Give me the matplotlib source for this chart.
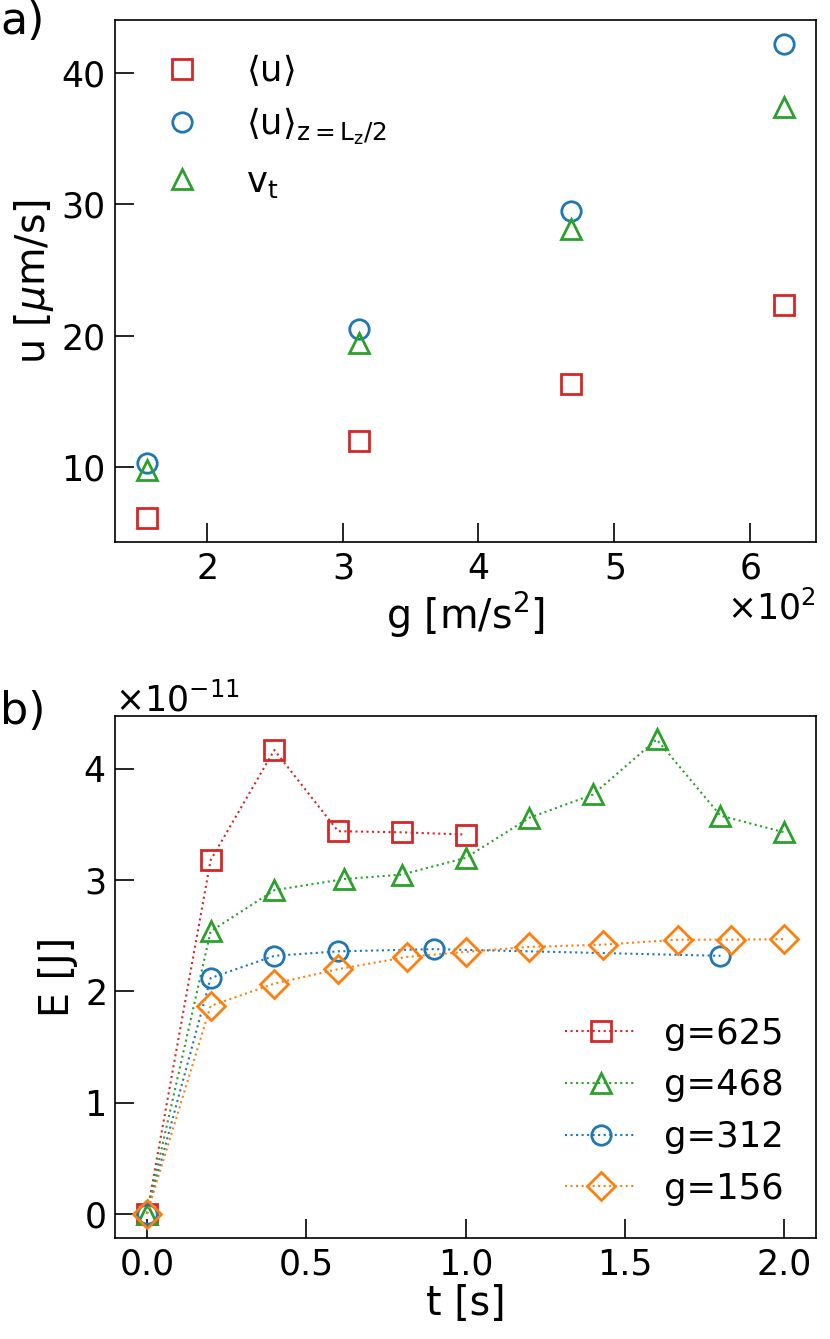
import matplotlib
matplotlib.use('Agg')
import matplotlib.pyplot as plt
import numpy as np

# panel a) : velocities vs gravity
g = [156, 312, 468, 625]
u_mean = [6.1, 11.95, 16.3, 22.3]
u_mid = [10.3, 20.5, 29.5, 42.2]
v_t = [9.8, 19.4, 28.1, 37.4]

# panel b) : energy vs time (x1e-11 J)
t_625 = [0, 0.2, 0.4, 0.6, 0.8, 1.0]
E_625 = [0, 3.18, 4.17, 3.44, 3.43, 3.41]
t_468 = [0, 0.2, 0.4, 0.62, 0.8, 1.0, 1.2, 1.4, 1.6, 1.8, 2.0]
E_468 = [0, 2.54, 2.91, 3.01, 3.05, 3.20, 3.56, 3.77, 4.265, 3.58, 3.43]
t_312 = [0, 0.2, 0.4, 0.6, 0.9, 1.8]
E_312 = [0, 2.12, 2.32, 2.36, 2.38, 2.32]
t_156 = [0, 0.2, 0.4, 0.6, 0.817, 1.0, 1.2, 1.43, 1.667, 1.833, 2.0]
E_156 = [0, 1.87, 2.07, 2.20, 2.31, 2.355, 2.40, 2.42, 2.465, 2.465, 2.47]

red, blue, green, orange = '#d62728', '#1f77b4', '#2ca02c', '#ff7f0e'
ms, mew = 14, 2

fig = plt.figure(figsize=(8.3, 13.39), dpi=100)
ax1 = fig.add_axes([0.1386, 0.5952, 0.8446, 0.3898])
ax2 = fig.add_axes([0.1386, 0.0757, 0.8446, 0.3898])

# a)
ax1.plot(g, u_mean, 's', ms=ms, mew=mew, mfc='none', color=red,
         label=r'$\langle \mathrm{u} \rangle$')
ax1.plot(g, u_mid, 'o', ms=ms, mew=mew, mfc='none', color=blue,
         label=r'$\langle \mathrm{u} \rangle_{\mathrm{z=L_z/2}}$')
ax1.plot(g, v_t, '^', ms=ms, mew=mew, mfc='none', color=green,
         label=r'$\mathrm{v_t}$')
ax1.set_xlabel(r'g [m/s$^2$]', fontsize=28.5, labelpad=3)
ax1.set_ylabel(r'u [$\mu$m/s]', fontsize=28.5)
ax1.ticklabel_format(axis='x', style='sci', scilimits=(0, 0), useMathText=True)
ax1.legend(loc='upper left', frameon=False, fontsize=25.5)

# b)
E = lambda v: np.array(v) * 1e-11
ax2.plot(t_625, E(E_625), ':s', ms=ms, mew=mew, mfc='none', color=red, lw=1.5, label='g=625')
ax2.plot(t_468, E(E_468), ':^', ms=ms, mew=mew, mfc='none', color=green, lw=1.5, label='g=468')
ax2.plot(t_312, E(E_312), ':o', ms=ms, mew=mew, mfc='none', color=blue, lw=1.5, label='g=312')
ax2.plot(t_156, E(E_156), ':D', ms=ms, mew=mew, mfc='none', color=orange, lw=1.5, label='g=156')
ax2.set_xlabel('t [s]', fontsize=28.5, labelpad=2)
ax2.set_ylabel('E [J]', fontsize=28.5)
ax2.ticklabel_format(axis='y', style='sci', scilimits=(0, 0), useMathText=True)
ax2.legend(loc='lower right', frameon=False, fontsize=25.5)

for ax in (ax1, ax2):
    ax.tick_params(direction='in', length=14, width=1.2, labelsize=25, pad=7)
    ax.xaxis.get_offset_text().set_fontsize(25)
    ax.yaxis.get_offset_text().set_fontsize(25)
    for s in ax.spines.values():
        s.set_linewidth(1.2)

fig.text(0.0, 1.0, 'a)', fontsize=32, ha='left', va='top')
fig.text(0.0, 1 - 690 / 1339, 'b)', fontsize=32, ha='left', va='top')

fig.savefig('out.png', dpi=100)
